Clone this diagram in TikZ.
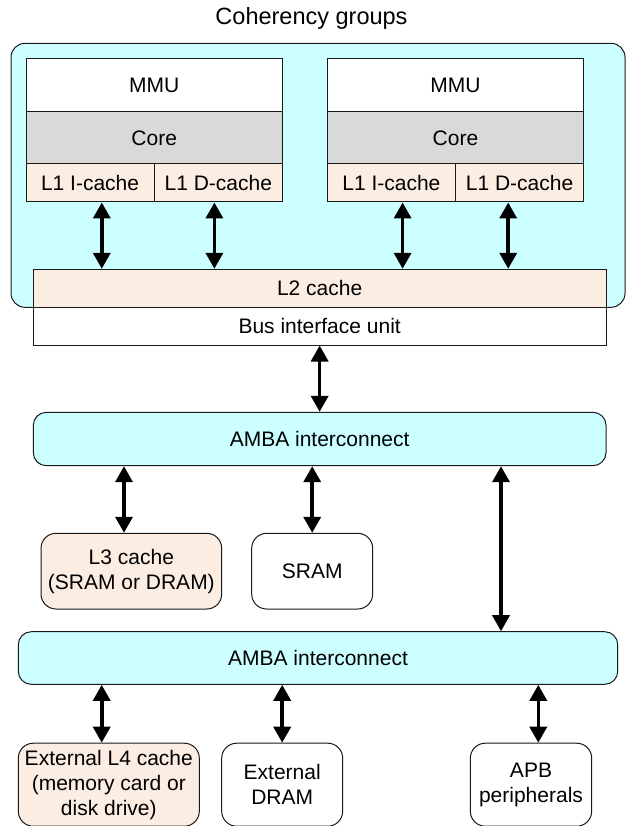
\documentclass[tikz,border=0pt]{standalone}
\usepackage{fontspec}
\setmainfont{Liberation Sans}
\usetikzlibrary{arrows.meta}
\definecolor{grpcyan}{HTML}{CCFFFF}
\definecolor{cachepeach}{HTML}{FCEDE3}
\definecolor{coregray}{HTML}{D9D9D9}

\begin{document}
\begin{tikzpicture}[x=1pt, y=-1pt,
    font=\fontsize{21}{25}\selectfont,
    unit/.style={draw=black!90, line width=1pt, inner sep=0pt, align=center},
    memory/.style={unit, rounded corners=15pt},
    amba/.style={unit, fill=grpcyan, rounded corners=13pt},
    link/.style={{Triangle[width=17pt,length=16pt]}-{Triangle[width=17pt,length=16pt]}, line width=3.6pt}]

    \useasboundingbox (0,0) rectangle (626,826);

    % Coherency groups
    \node[unit, fill=grpcyan, rounded corners=14pt, minimum width=614pt, minimum height=264pt] (cohgrp) at (318,175.3) {};
    \node[font=\fontsize{23.5}{28}\selectfont] (cohlabel) at (311.5,18.5) {Coherency groups};

    % Two cores with MMU and L1 caches
    \foreach \n/\x in {A/26,B/327.3} {
        \node[unit, fill=white, minimum width=256.4pt, minimum height=52.7pt] (mmu\n) at (\x+128.2,85.35) {MMU};
        \node[unit, fill=coregray, minimum width=256.4pt, minimum height=52.3pt] (core\n) at (\x+128.2,137.85) {Core};
        \node[unit, fill=cachepeach, minimum width=128.2pt, minimum height=38pt] (lii\n) at (\x+64.1,183) {L1 I-cache};
        \node[unit, fill=cachepeach, minimum width=128.2pt, minimum height=38pt] (lid\n) at (\x+192.3,183) {L1 D-cache};
    }

    % L2 cache and bus interface
    \node[unit, fill=cachepeach, minimum width=572.7pt, minimum height=38pt] (ltwo) at (319.65,288.3) {L2 cache};
    \node[unit, fill=white, minimum width=572.7pt, minimum height=37.7pt] (biu) at (319.65,326.15) {Bus interface unit};

    \foreach \c/\s in {liiA/11.7, lidA/-3.9, liiB/11.2, lidB/-11.4}
        \draw[link] ([xshift=\s pt]\c.south) -- ([xshift=\s pt]\c.south |- ltwo.north);

    % First interconnect
    \node[amba, minimum width=572.7pt, minimum height=53.4pt] (ambaA) at (319.65,439) {AMBA interconnect};
    \node[memory, fill=cachepeach, minimum width=180.7pt, minimum height=75.7pt] (lthree) at (131.35,571.15) {L3 cache\\(SRAM or DRAM)};
    \node[memory, fill=white, minimum width=121pt, minimum height=75.7pt] (sram) at (312.2,571.15) {SRAM};

    \draw[link] (biu.south) -- (ambaA.north);
    \draw[link] ([xshift=-7.35pt]lthree.north |- ambaA.south) -- ([xshift=-7.35pt]lthree.north);
    \draw[link] (sram.north |- ambaA.south) -- (sram.north);

    % Second interconnect
    \node[amba, minimum width=599.4pt, minimum height=52.6pt] (ambaB) at (318,658) {AMBA interconnect};
    \node[memory, fill=cachepeach, minimum width=181pt, minimum height=83pt] (lfour) at (108.8,784.7) {External L4 cache\\(memory card or\\disk drive)};
    \node[memory, fill=white, minimum width=121pt, minimum height=83pt] (dram) at (282.2,784.7) {External\\DRAM};
    \node[memory, fill=white, minimum width=121.4pt, minimum height=83pt] (apb) at (531,784.7) {APB\\peripherals};

    \draw[link] ([xshift=181.35pt]ambaA.south) -- ([xshift=181.35pt]ambaA.south |- ambaB.north);
    \draw[link] ([xshift=-7.1pt]lfour.north |- ambaB.south) -- ([xshift=-7.1pt]lfour.north);
    \draw[link] (dram.north |- ambaB.south) -- (dram.north);
    \draw[link] ([xshift=7.3pt]apb.north |- ambaB.south) -- ([xshift=7.3pt]apb.north);

\end{tikzpicture}
\end{document}
